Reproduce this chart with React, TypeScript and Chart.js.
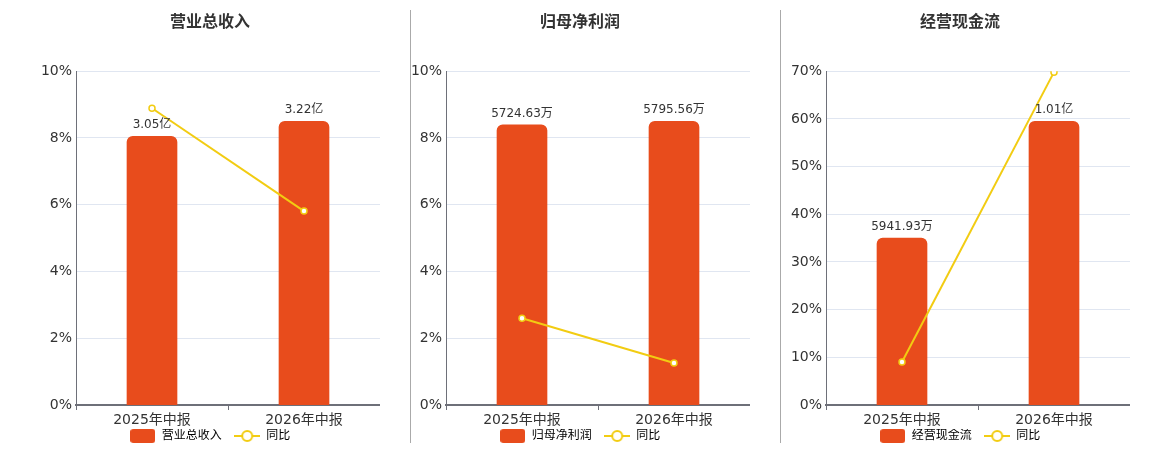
import React, { useEffect, useRef } from 'react';
import { Chart, registerables } from 'chart.js';

Chart.register(...registerables);

const FONT = '"DejaVu Sans", "Noto Sans CJK SC", sans-serif';
const BAR_COLOR = '#E84C1C';
const LINE_COLOR = '#F2CC12';

const categories = ['2025年中报', '2026年中报'];

// 营业总收入 (亿)
const revenueValues = [3.05, 3.22];
const revenueLabels = ['3.05亿', '3.22亿'];
const revenueYoy = [8.89, 5.81];

// 归母净利润 (万)
const profitValues = [5724.63, 5795.56];
const profitLabels = ['5724.63万', '5795.56万'];
const profitYoy = [2.6, 1.26];

// 经营现金流 (万)
const cashValues = [5941.93, 10100];
const cashLabels = ['5941.93万', '1.01亿'];
const cashYoy = [9.0, 69.8];

const pctMaxSmall = 10;
const pctStepSmall = 2;
const pctMaxLarge = 70;
const pctStepLarge = 10;

type PanelProps = {
  title: string;
  barName: string;
  values: number[];
  labels: string[];
  yoy: number[];
  pctMax: number;
  pctStep: number;
  left: number;
};

const makeBarIcon = () => {
  const c = document.createElement('canvas');
  c.width = 25;
  c.height = 14;
  const ctx = c.getContext('2d')!;
  ctx.fillStyle = BAR_COLOR;
  ctx.beginPath();
  ctx.roundRect(0, 0, 25, 14, 3);
  ctx.fill();
  return c;
};

const makeLineIcon = () => {
  const c = document.createElement('canvas');
  c.width = 26;
  c.height = 14;
  const ctx = c.getContext('2d')!;
  ctx.strokeStyle = LINE_COLOR;
  ctx.lineWidth = 2;
  ctx.beginPath();
  ctx.moveTo(0, 7);
  ctx.lineTo(26, 7);
  ctx.stroke();
  ctx.fillStyle = '#fff';
  ctx.beginPath();
  ctx.arc(13, 7, 5, 0, Math.PI * 2);
  ctx.fill();
  ctx.stroke();
  return c;
};

const Panel = ({ title, barName, values, labels, yoy, pctMax, pctStep, left }: PanelProps) => {
  const chartRef = useRef<HTMLCanvasElement>(null);
  const chartInstance = useRef<Chart | null>(null);

  useEffect(() => {
    if (!chartRef.current) return;
    const ctx = chartRef.current.getContext('2d');
    if (!ctx) return;
    if (chartInstance.current) chartInstance.current.destroy();

    // value labels above the bars
    const barLabels = {
      id: 'barLabels',
      afterDatasetsDraw(chart: Chart) {
        const meta = chart.getDatasetMeta(0);
        const c = chart.ctx;
        c.save();
        c.font = `12px ${FONT}`;
        c.fillStyle = '#333';
        c.textAlign = 'center';
        c.textBaseline = 'bottom';
        meta.data.forEach((el: any, i: number) => {
          c.fillText(labels[i], el.x, el.y - 5);
        });
        c.restore();
      },
    };

    const barIcon = makeBarIcon();
    const lineIcon = makeLineIcon();

    chartInstance.current = new Chart(ctx, {
      type: 'bar',
      data: {
        labels: categories,
        datasets: [
          {
            type: 'bar',
            label: barName,
            data: values,
            yAxisID: 'yBar',
            backgroundColor: BAR_COLOR,
            barThickness: 50,
            borderRadius: { topLeft: 6, topRight: 6, bottomLeft: 0, bottomRight: 0 },
            borderSkipped: false,
            order: 1,
          },
          {
            type: 'line',
            label: '同比',
            data: yoy,
            yAxisID: 'y',
            borderColor: LINE_COLOR,
            borderWidth: 2,
            pointRadius: 3,
            pointBorderWidth: 1.5,
            pointBackgroundColor: '#fff',
            pointBorderColor: LINE_COLOR,
            order: 0,
          } as any,
        ],
      },
      options: {
        responsive: true,
        maintainAspectRatio: false,
        animation: false,
        layout: { padding: 0, autoPadding: false },
        scales: {
          x: {
            offset: true,
            grid: {
              display: true,
              offset: true,
              drawOnChartArea: false,
              drawTicks: true,
              tickLength: 5,
              color: '#6E7079',
            },
            border: { display: true, color: '#6E7079', width: 2 },
            ticks: { color: '#333', font: { size: 14, family: FONT }, padding: 2 },
            afterFit: (scale: any) => {
              scale.height = 24;
            },
          },
          y: {
            min: 0,
            max: pctMax,
            position: 'left',
            ticks: {
              stepSize: pctStep,
              color: '#333',
              font: { size: 14, family: FONT },
              padding: 4,
              callback: (v: any) => `${v}%`,
            },
            grid: { color: '#E0E6F1', drawTicks: false },
            border: { display: true, color: '#6E7079', width: 1 },
            afterFit: (scale: any) => {
              scale.width = 36;
            },
          },
          yBar: {
            display: false,
            min: 0,
            max: Math.max(...values) / 0.85,
          },
        },
        plugins: {
          title: {
            display: true,
            text: title,
            color: '#333',
            font: { size: 16, weight: 'bold', family: FONT },
            padding: { top: 13, bottom: 39 },
          },
          legend: {
            position: 'bottom',
            labels: {
              usePointStyle: true,
              pointStyleWidth: 26,
              color: '#333',
              font: { size: 12, family: FONT },
              padding: 1,
              generateLabels: () => [
                {
                  // trailing spaces keep the gap between the two legend items
                  text: barName + '   ',
                  pointStyle: barIcon as any,
                  fillStyle: BAR_COLOR,
                  strokeStyle: BAR_COLOR,
                  lineWidth: 0,
                  hidden: false,
                  datasetIndex: 0,
                },
                {
                  text: '同比',
                  pointStyle: lineIcon as any,
                  fillStyle: '#fff',
                  strokeStyle: LINE_COLOR,
                  lineWidth: 2,
                  hidden: false,
                  datasetIndex: 1,
                },
              ],
            },
          },
          tooltip: { enabled: false },
        },
      },
      plugins: [barLabels],
    });

    return () => {
      if (chartInstance.current) {
        chartInstance.current.destroy();
        chartInstance.current = null;
      }
    };
  }, []);

  return (
    <div style={{ position: 'absolute', left, top: 0, width: 340, height: 452 }}>
      <canvas ref={chartRef}></canvas>
    </div>
  );
};

const App = () => {
  return (
    <div
      style={{
        position: 'absolute',
        left: 0,
        top: 0,
        width: 1160,
        height: 450,
        overflow: 'hidden',
        background: '#fff',
      }}
    >
      <Panel
        title="营业总收入"
        barName="营业总收入"
        values={revenueValues}
        labels={revenueLabels}
        yoy={revenueYoy}
        pctMax={pctMaxSmall}
        pctStep={pctStepSmall}
        left={40}
      />
      <Panel
        title="归母净利润"
        barName="归母净利润"
        values={profitValues}
        labels={profitLabels}
        yoy={profitYoy}
        pctMax={pctMaxSmall}
        pctStep={pctStepSmall}
        left={410}
      />
      <Panel
        title="经营现金流"
        barName="经营现金流"
        values={cashValues}
        labels={cashLabels}
        yoy={cashYoy}
        pctMax={pctMaxLarge}
        pctStep={pctStepLarge}
        left={790}
      />
      <div style={{ position: 'absolute', left: 410, top: 10, width: 1, height: 433, background: '#AAAAAA' }} />
      <div style={{ position: 'absolute', left: 780, top: 10, width: 1, height: 433, background: '#AAAAAA' }} />
    </div>
  );
};

export default App;
